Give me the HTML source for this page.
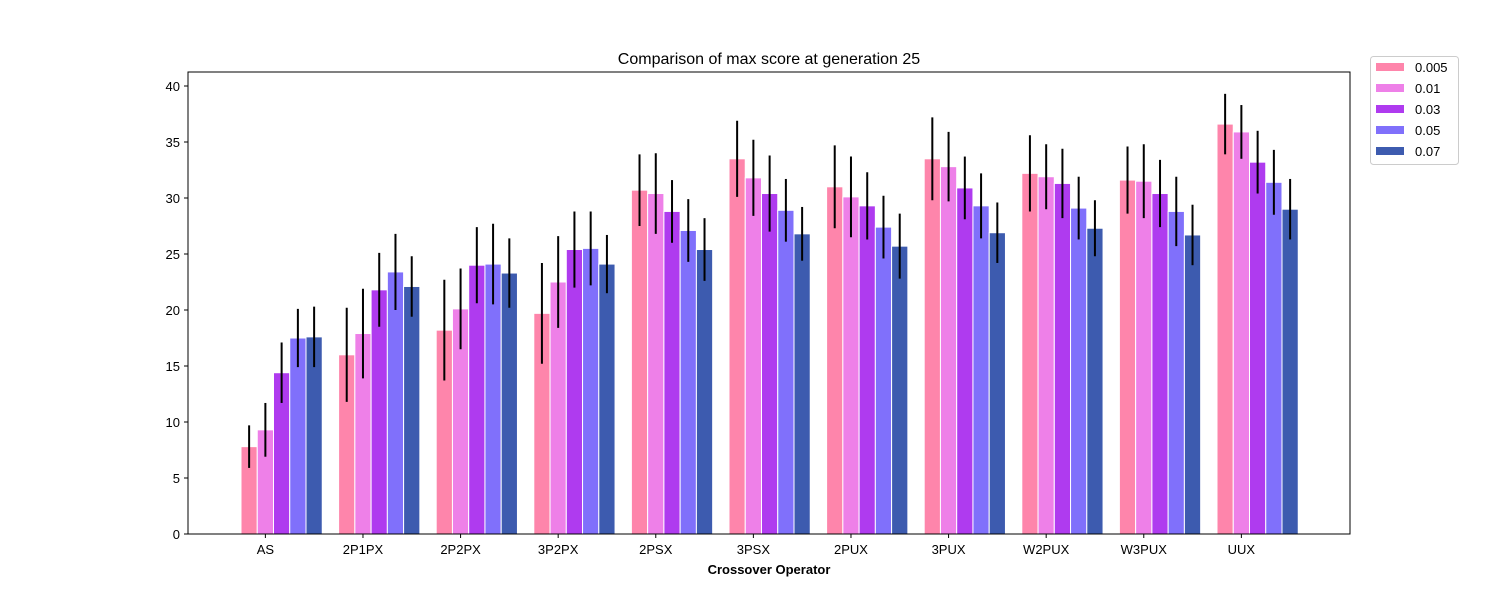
<!DOCTYPE html>
<html><head><meta charset="utf-8"><style>
body{margin:0;background:#fff;}
svg text{font-family:"Liberation Sans","DejaVu Sans",sans-serif;}
</style></head><body>
<svg id="chart" width="1500" height="600" xmlns="http://www.w3.org/2000/svg">
<rect x="0" y="0" width="1500" height="600" fill="#fff"/>
<g id="bars"></g>
<g id="errs"></g>
<rect x="188" y="72" width="1162" height="462" fill="none" stroke="#000" stroke-width="1"/>
<g id="yaxis"></g>
<g id="xaxis"></g>
<text x="769" y="64" font-size="16" text-anchor="middle">Comparison of max score at generation 25</text>
<text x="769" y="574" font-size="13" font-weight="bold" text-anchor="middle">Crossover Operator</text>
<g id="legend">
<rect x="1370.5" y="56.5" width="88" height="108" rx="3" fill="#fff" stroke="#ccc"/>
</g>
</svg>
<script>
const categories=["AS","2P1PX","2P2PX","3P2PX","2PSX","3PSX","2PUX","3PUX","W2PUX","W3PUX","UUX"];
const seriesNames=["0.005","0.01","0.03","0.05","0.07"];
const s005=[7.8,16.0,18.2,19.7,30.7,33.5,31.0,33.5,32.2,31.6,36.6];
const s01=[9.3,17.9,20.1,22.5,30.4,31.8,30.1,32.8,31.9,31.5,35.9];
const s03=[14.4,21.8,24.0,25.4,28.8,30.4,29.3,30.9,31.3,30.4,33.2];
const s05=[17.5,23.4,24.1,25.5,27.1,28.9,27.4,29.3,29.1,28.8,31.4];
const s07=[17.6,22.1,23.3,24.1,25.4,26.8,25.7,26.9,27.3,26.7,29.0];
const e005=[1.9,4.2,4.5,4.5,3.2,3.4,3.7,3.7,3.4,3.0,2.7];
const e01=[2.4,4.0,3.6,4.1,3.6,3.4,3.6,3.1,2.9,3.3,2.4];
const e03=[2.7,3.3,3.4,3.4,2.8,3.4,3.0,2.8,3.1,3.0,2.8];
const e05=[2.6,3.4,3.6,3.3,2.8,2.8,2.8,2.9,2.8,3.1,2.9];
const e07=[2.7,2.7,3.1,2.6,2.8,2.4,2.9,2.7,2.5,2.7,2.7];
const yTicks=[0,5,10,15,20,25,30,35,40];
const colors=["#fe85ab","#ee80e8","#af3bef","#8070fb","#3d5baf"];
const vals=[s005,s01,s03,s05,s07], errs=[e005,e01,e03,e05,e07];
const NS="http://www.w3.org/2000/svg";
const y=v=>534-v*11.2;
const barW=16.25;
const x=(i,j)=>241+97.6*i+barW*j;
function mk(tag,attrs,parent){const e=document.createElementNS(NS,tag);for(const k in attrs)e.setAttribute(k,attrs[k]);parent.appendChild(e);return e;}
const gb=document.getElementById('bars'),ge=document.getElementById('errs');
for(let j=0;j<5;j++)for(let i=0;i<categories.length;i++){
 const v=vals[j][i],er=errs[j][i];
 const r=mk('rect',{x:x(i,j),y:y(v),width:barW,height:y(0)-y(v),fill:colors[j],stroke:'#fff','stroke-width':1},gb);
 
 
 const cx=x(i,j)+barW/2;
 const l=mk('line',{x1:cx,x2:cx,y1:y(v+er),y2:y(v-er),stroke:'#000','stroke-width':2},ge);
 
 
}
const gy=document.getElementById('yaxis');
yTicks.forEach(t=>{
 mk('line',{x1:184,x2:188,y1:y(t),y2:y(t),stroke:'#000'},gy);
 const tx=mk('text',{x:180,y:y(t)+5,'font-size':13,'text-anchor':'end'},gy);tx.textContent=t;
 
 
});
const gx=document.getElementById('xaxis');
categories.forEach((c,i)=>{
 const cx=x(i,1)+barW/2;
 mk('line',{x1:cx,x2:cx,y1:534,y2:538,stroke:'#000'},gx);
 const tx=mk('text',{x:cx,y:554,'font-size':13,'text-anchor':'middle'},gx);tx.textContent=c;
 
 
});
const gl=document.getElementById('legend');
seriesNames.forEach((n,j)=>{
 const yy=67+21*j;
 const r=mk('rect',{x:1376,y:yy-4,width:28,height:8,fill:colors[j]},gl);
 
 
 const t=mk('text',{x:1415,y:yy+5,'font-size':13},gl);t.textContent=n;
 
 
});
</script>
</body></html>
